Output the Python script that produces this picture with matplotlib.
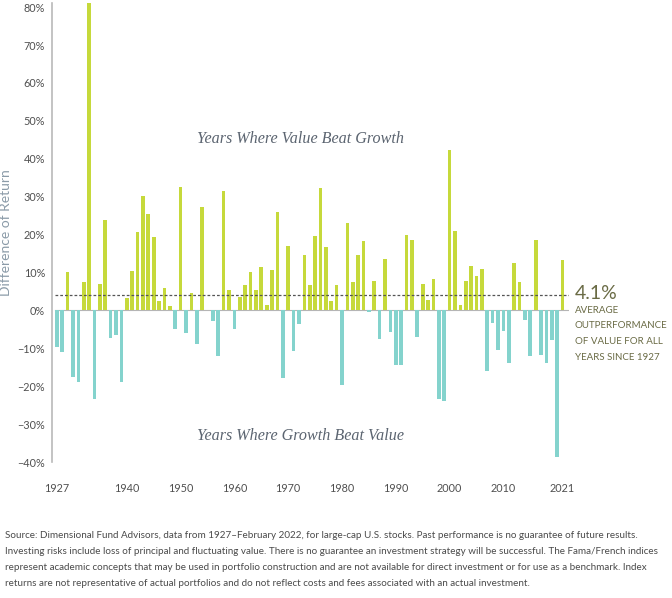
import matplotlib
matplotlib.use("Agg")
import matplotlib.pyplot as plt

# value minus growth return, large-cap U.S. stocks, by year
years = list(range(1927, 2022))
diff = [
    -9.7, -11.1, 10.1, -17.6, -19.0, 7.4, 81.0, -23.3, 6.9, 23.9,      # 1927-1936
    -7.3, -6.4, -19.0, 3.3, 10.5, 20.6, 30.2, 25.4, 19.3, 2.6,         # 1937-1946
    5.8, 1.2, -4.9, 32.5, -6.0, 4.5, -8.8, 27.4, 0.0, -2.9,            # 1947-1956
    -12.0, 31.5, 5.4, -4.8, 3.6, 6.6, 10.2, 5.5, 11.4, 1.3,            # 1957-1966
    10.6, 25.9, -17.9, 17.0, -10.8, -3.5, 14.5, 6.6, 19.7, 32.3,       # 1967-1976
    16.6, 2.4, 6.6, -19.6, 23.0, 7.4, 14.7, 18.2, -0.4, 7.7,           # 1977-1986
    -7.5, 13.5, -5.8, -14.3, -14.4, 20.0, 18.6, -7.1, 6.9, 2.8,        # 1987-1996
    8.2, -23.3, -24.0, 42.3, 20.9, 1.3, 7.7, 11.8, 9.1, 10.9,          # 1997-2006
    -16.1, -3.4, -10.5, -5.5, -13.9, 12.4, 7.4, -2.5, -12.1, 18.5,     # 2007-2016
    -11.7, -13.9, -7.7, -38.7, 13.3,                                   # 2017-2021
]
average = 4.1

xtick_years = [1927, 1940, 1950, 1960, 1970, 1980, 1990, 2000, 2010, 2021]
ytick_vals = list(range(-40, 81, 10))
ytick_labels = [(f"{v}%" if v >= 0 else f"\u2212{-v}%") for v in ytick_vals]

footer = (
    "Source: Dimensional Fund Advisors, data from 1927\u2013February 2022, for large-cap U.S. stocks. "
    "Past performance is no guarantee of future results.\n"
    "Investing risks include loss of principal and fluctuating value. There is no guarantee an investment "
    "strategy will be successful. The Fama/French indices\n"
    "represent academic concepts that may be used in portfolio construction and are not available for "
    "direct investment or for use as a benchmark. Index\n"
    "returns are not representative of actual portfolios and do not reflect costs and fees associated "
    "with an actual investment."
)

GREEN = "#c6d93b"
TEAL = "#84d3cd"
plt.rcParams["font.family"] = ["Lato", "DejaVu Sans"]

fig = plt.figure(figsize=(6.72, 5.98), dpi=100)
ax = fig.add_axes([0.0774, 0.2274, 0.7686, 0.767])

colors = [GREEN if v >= 0 else TEAL for v in diff]
ax.bar(years, diff, width=0.68, color=colors, zorder=2)

ax.axhline(0, color="#b5b5b5", lw=0.8, zorder=1, xmin=0.006)
ax.axhline(average, color="#555555", lw=0.9, ls=(0, (2.2, 1.6)), zorder=3, xmin=0.006, xmax=1.0)

ax.set_xlim(1926.1, 2022.1)
ax.set_ylim(-40, 81)

ax.set_yticks(ytick_vals)
ax.set_yticklabels(ytick_labels)
ax.set_xticks(xtick_years)
ax.set_xticklabels([str(y) for y in xtick_years])
ax.tick_params(axis="y", length=0, pad=5, labelsize=7.8, labelcolor="#505050")
ax.tick_params(axis="x", length=0, pad=15, labelsize=7.8, labelcolor="#505050")

for s in ["top", "right", "bottom"]:
    ax.spines[s].set_visible(False)
ax.spines["left"].set_color("#b9b9b9")
ax.spines["left"].set_linewidth(1.2)

ax.set_ylabel("Difference of Return", fontsize=10, color="#8b9ba8")
ax.yaxis.set_label_coords(-0.077, 0.5)

ax.text(1972.2, 45.1, "Years Where Value Beat Growth", family="Liberation Serif",
        style="italic", fontsize=11.6, color="#5b6470", ha="center", va="center")
ax.text(1972.2, -33.2, "Years Where Growth Beat Value", family="Liberation Serif",
        style="italic", fontsize=11.6, color="#5b6470", ha="center", va="center")

ax.text(2023.3, average + 0.3, "4.1%", fontsize=14, color="#6a6b45", ha="left", va="center",
        clip_on=False)
fig.text(0.855, 0.489, "AVERAGE\nOUTPERFORMANCE\nOF VALUE FOR ALL\nYEARS SINCE 1927",
         fontsize=7.0, color="#6a6b45", ha="left", va="top", linespacing=1.97)

fig.text(0.008, 0.112, footer, fontsize=7.1, color="#4a4a4a", ha="left", va="top",
         linespacing=2.0)

fig.savefig("out.png", dpi=100, facecolor="white")
